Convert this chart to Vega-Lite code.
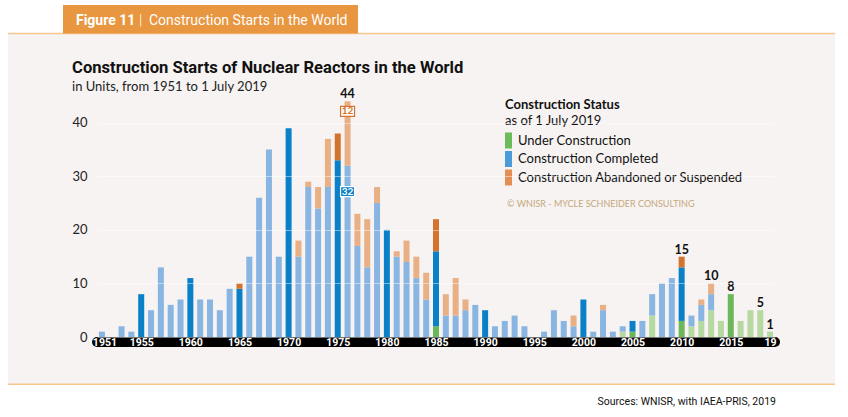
{
  "$schema": "https://vega.github.io/schema/vega-lite/v6.json",
  "width": 678,
  "height": 241,
  "autosize": {"type": "none"},
  "padding": {"left": 97, "top": 96, "right": 73, "bottom": 80},
  "background": "white",
  "config": {"view": {"stroke": null}, "font": "Lato", "scale": {"continuousPadding": 0}},
  "data": {
    "values": [
      {"year": 1951, "status": "Construction Completed", "units": 1},
      {"year": 1953, "status": "Construction Completed", "units": 2},
      {"year": 1954, "status": "Construction Completed", "units": 1},
      {"year": 1955, "status": "Construction Completed", "units": 8},
      {"year": 1956, "status": "Construction Completed", "units": 5},
      {"year": 1957, "status": "Construction Completed", "units": 13},
      {"year": 1958, "status": "Construction Completed", "units": 6},
      {"year": 1959, "status": "Construction Completed", "units": 7},
      {"year": 1960, "status": "Construction Completed", "units": 11},
      {"year": 1961, "status": "Construction Completed", "units": 7},
      {"year": 1962, "status": "Construction Completed", "units": 7},
      {"year": 1963, "status": "Construction Completed", "units": 5},
      {"year": 1964, "status": "Construction Completed", "units": 9},
      {"year": 1965, "status": "Construction Completed", "units": 9},
      {"year": 1965, "status": "Construction Abandoned or Suspended", "units": 1},
      {"year": 1966, "status": "Construction Completed", "units": 15},
      {"year": 1967, "status": "Construction Completed", "units": 26},
      {"year": 1968, "status": "Construction Completed", "units": 35},
      {"year": 1969, "status": "Construction Completed", "units": 15},
      {"year": 1970, "status": "Construction Completed", "units": 39},
      {"year": 1971, "status": "Construction Completed", "units": 15},
      {"year": 1971, "status": "Construction Abandoned or Suspended", "units": 3},
      {"year": 1972, "status": "Construction Completed", "units": 28},
      {"year": 1972, "status": "Construction Abandoned or Suspended", "units": 1},
      {"year": 1973, "status": "Construction Completed", "units": 24},
      {"year": 1973, "status": "Construction Abandoned or Suspended", "units": 4},
      {"year": 1974, "status": "Construction Completed", "units": 28},
      {"year": 1974, "status": "Construction Abandoned or Suspended", "units": 9},
      {"year": 1975, "status": "Construction Completed", "units": 33},
      {"year": 1975, "status": "Construction Abandoned or Suspended", "units": 5},
      {"year": 1976, "status": "Construction Completed", "units": 32},
      {"year": 1976, "status": "Construction Abandoned or Suspended", "units": 12},
      {"year": 1977, "status": "Construction Completed", "units": 17},
      {"year": 1977, "status": "Construction Abandoned or Suspended", "units": 6},
      {"year": 1978, "status": "Construction Completed", "units": 13},
      {"year": 1978, "status": "Construction Abandoned or Suspended", "units": 9},
      {"year": 1979, "status": "Construction Completed", "units": 25},
      {"year": 1979, "status": "Construction Abandoned or Suspended", "units": 3},
      {"year": 1980, "status": "Construction Completed", "units": 20},
      {"year": 1981, "status": "Construction Completed", "units": 15},
      {"year": 1981, "status": "Construction Abandoned or Suspended", "units": 1},
      {"year": 1982, "status": "Construction Completed", "units": 14},
      {"year": 1982, "status": "Construction Abandoned or Suspended", "units": 4},
      {"year": 1983, "status": "Construction Completed", "units": 11},
      {"year": 1983, "status": "Construction Abandoned or Suspended", "units": 4},
      {"year": 1984, "status": "Construction Completed", "units": 7},
      {"year": 1984, "status": "Construction Abandoned or Suspended", "units": 5},
      {"year": 1985, "status": "Under Construction", "units": 2},
      {"year": 1985, "status": "Construction Completed", "units": 14},
      {"year": 1985, "status": "Construction Abandoned or Suspended", "units": 6},
      {"year": 1986, "status": "Construction Completed", "units": 4},
      {"year": 1986, "status": "Construction Abandoned or Suspended", "units": 4},
      {"year": 1987, "status": "Construction Completed", "units": 4},
      {"year": 1987, "status": "Construction Abandoned or Suspended", "units": 7},
      {"year": 1988, "status": "Construction Completed", "units": 5},
      {"year": 1988, "status": "Construction Abandoned or Suspended", "units": 2},
      {"year": 1989, "status": "Construction Completed", "units": 6},
      {"year": 1990, "status": "Construction Completed", "units": 5},
      {"year": 1991, "status": "Construction Completed", "units": 2},
      {"year": 1992, "status": "Construction Completed", "units": 3},
      {"year": 1993, "status": "Construction Completed", "units": 4},
      {"year": 1994, "status": "Construction Completed", "units": 2},
      {"year": 1996, "status": "Construction Completed", "units": 1},
      {"year": 1997, "status": "Construction Completed", "units": 5},
      {"year": 1998, "status": "Construction Completed", "units": 3},
      {"year": 1999, "status": "Construction Completed", "units": 2},
      {"year": 1999, "status": "Construction Abandoned or Suspended", "units": 2},
      {"year": 2000, "status": "Construction Completed", "units": 7},
      {"year": 2001, "status": "Construction Completed", "units": 1},
      {"year": 2002, "status": "Construction Completed", "units": 5},
      {"year": 2002, "status": "Construction Abandoned or Suspended", "units": 1},
      {"year": 2003, "status": "Construction Completed", "units": 1},
      {"year": 2004, "status": "Under Construction", "units": 1},
      {"year": 2004, "status": "Construction Completed", "units": 1},
      {"year": 2005, "status": "Under Construction", "units": 1},
      {"year": 2005, "status": "Construction Completed", "units": 2},
      {"year": 2006, "status": "Construction Completed", "units": 3},
      {"year": 2007, "status": "Under Construction", "units": 4},
      {"year": 2007, "status": "Construction Completed", "units": 4},
      {"year": 2008, "status": "Construction Completed", "units": 10},
      {"year": 2009, "status": "Construction Completed", "units": 11},
      {"year": 2010, "status": "Under Construction", "units": 3},
      {"year": 2010, "status": "Construction Completed", "units": 10},
      {"year": 2010, "status": "Construction Abandoned or Suspended", "units": 2},
      {"year": 2011, "status": "Under Construction", "units": 2},
      {"year": 2011, "status": "Construction Completed", "units": 2},
      {"year": 2012, "status": "Under Construction", "units": 3},
      {"year": 2012, "status": "Construction Completed", "units": 3},
      {"year": 2012, "status": "Construction Abandoned or Suspended", "units": 1},
      {"year": 2013, "status": "Under Construction", "units": 5},
      {"year": 2013, "status": "Construction Completed", "units": 3},
      {"year": 2013, "status": "Construction Abandoned or Suspended", "units": 2},
      {"year": 2014, "status": "Under Construction", "units": 3},
      {"year": 2015, "status": "Under Construction", "units": 8},
      {"year": 2016, "status": "Under Construction", "units": 3},
      {"year": 2017, "status": "Under Construction", "units": 5},
      {"year": 2018, "status": "Under Construction", "units": 5},
      {"year": 2019, "status": "Under Construction", "units": 1}
    ]
  },
  "transform": [
    {"stack": "units", "groupby": ["year"], "sort": [{"field": "status", "order": "descending"}], "as": ["u0", "u1"]}
  ],
  "layer": [
    {
      "data": {"values": [{}]},
      "mark": {"type": "rect", "fill": "#f7f3f2"},
      "encoding": {
        "x": {"datum": 1941.44, "type": "quantitative", "scale": {"domain": [1950.5, 2019.5]}},
        "x2": {"datum": 2025.61},
        "y": {"datum": 56.58, "type": "quantitative", "scale": {"domain": [0, 45]}},
        "y2": {"datum": -8.78}
      }
    },
    {
      "data": {"values": [{}]},
      "mark": {"type": "rule", "stroke": "#f6c590", "strokeWidth": 1.5},
      "encoding": {
        "x": {"datum": 1941.44, "type": "quantitative", "scale": {"domain": [1950.5, 2019.5]}},
        "x2": {"datum": 2025.61},
        "y": {"datum": 56.67, "type": "quantitative", "scale": {"domain": [0, 45]}}
      }
    },
    {
      "data": {"values": [{}]},
      "mark": {"type": "rule", "stroke": "#f6c590", "strokeWidth": 1.5},
      "encoding": {
        "x": {"datum": 1941.44, "type": "quantitative", "scale": {"domain": [1950.5, 2019.5]}},
        "x2": {"datum": 2025.61},
        "y": {"datum": -8.8, "type": "quantitative", "scale": {"domain": [0, 45]}}
      }
    },
    {
      "data": {"values": [{}]},
      "mark": {"type": "rule", "stroke": "#000000", "strokeWidth": 10, "strokeCap": "round"},
      "encoding": {
        "x": {"datum": 1950.5, "type": "quantitative", "scale": {"domain": [1950.5, 2019.5]}},
        "x2": {"datum": 2019.5},
        "y": {"datum": -0.95, "type": "quantitative", "scale": {"domain": [0, 45]}}
      }
    },
    {
      "data": {"values": [{}]},
      "mark": {"type": "rect", "fill": "#e8963f"},
      "encoding": {
        "x": {"datum": 1947.04, "type": "quantitative", "scale": {"domain": [1950.5, 2019.5]}},
        "x2": {"datum": 1977.06},
        "y": {"datum": 61.99, "type": "quantitative", "scale": {"domain": [0, 45]}},
        "y2": {"datum": 56.67}
      }
    },
    {
      "data": {"values": [{}]},
      "mark": {"type": "text", "align": "left", "baseline": "alphabetic", "font": "Roboto, sans-serif", "fontSize": 14, "fontWeight": "bold", "fill": "white", "text": "Figure 11"},
      "encoding": {
        "x": {"datum": 1948.36, "type": "quantitative", "scale": {"domain": [1950.5, 2019.5]}},
        "y": {"datum": 58.26, "type": "quantitative", "scale": {"domain": [0, 45]}}
      }
    },
    {
      "data": {"values": [{}]},
      "mark": {"type": "text", "align": "left", "baseline": "alphabetic", "font": "Roboto, sans-serif", "fontSize": 15, "fontWeight": 300, "fill": "white", "text": "|"},
      "encoding": {
        "x": {"datum": 1954.77, "type": "quantitative", "scale": {"domain": [1950.5, 2019.5]}},
        "y": {"datum": 58.26, "type": "quantitative", "scale": {"domain": [0, 45]}}
      }
    },
    {
      "data": {"values": [{}]},
      "mark": {"type": "text", "align": "left", "baseline": "alphabetic", "font": "Roboto, sans-serif", "fontSize": 14, "fill": "white", "text": "Construction Starts in the World"},
      "encoding": {
        "x": {"datum": 1955.79, "type": "quantitative", "scale": {"domain": [1950.5, 2019.5]}},
        "y": {"datum": 58.26, "type": "quantitative", "scale": {"domain": [0, 45]}}
      }
    },
    {
      "data": {"values": [{}]},
      "mark": {"type": "text", "align": "left", "baseline": "alphabetic", "font": "Roboto, sans-serif", "fontSize": 16.6, "fontWeight": "bold", "fill": "#111111", "text": "Construction Starts of Nuclear Reactors in the World"},
      "encoding": {
        "x": {"datum": 1947.96, "type": "quantitative", "scale": {"domain": [1950.5, 2019.5]}},
        "y": {"datum": 49.24, "type": "quantitative", "scale": {"domain": [0, 45]}}
      }
    },
    {
      "data": {"values": [{}]},
      "mark": {"type": "text", "align": "left", "baseline": "alphabetic", "font": "Lato, sans-serif", "fontSize": 13, "fill": "#222222", "text": "in Units, from 1951 to 1 July 2019"},
      "encoding": {
        "x": {"datum": 1947.96, "type": "quantitative", "scale": {"domain": [1950.5, 2019.5]}},
        "y": {"datum": 45.95, "type": "quantitative", "scale": {"domain": [0, 45]}}
      }
    },
    {
      "data": {"values": [{}]},
      "mark": {"type": "text", "align": "left", "baseline": "alphabetic", "font": "Lato, sans-serif", "fontSize": 13, "fill": "#111111", "text": "as of 1 July 2019"},
      "encoding": {
        "x": {"datum": 1992.02, "type": "quantitative", "scale": {"domain": [1950.5, 2019.5]}},
        "y": {"datum": 39.58, "type": "quantitative", "scale": {"domain": [0, 45]}}
      }
    },
    {
      "data": {"values": [{}]},
      "mark": {"type": "text", "align": "left", "baseline": "alphabetic", "font": "Lato, sans-serif", "fontSize": 9, "fill": "#c4a87c", "text": "© WNISR - MYCLE SCHNEIDER CONSULTING"},
      "encoding": {
        "x": {"datum": 1992.23, "type": "quantitative", "scale": {"domain": [1950.5, 2019.5]}},
        "y": {"datum": 24.27, "type": "quantitative", "scale": {"domain": [0, 45]}}
      }
    },
    {
      "data": {"values": [{}]},
      "mark": {"type": "text", "align": "right", "baseline": "alphabetic", "font": "Roboto, sans-serif", "fontSize": 10.5, "fill": "#111111", "text": "Sources: WNISR, with IAEA-PRIS, 2019"},
      "encoding": {
        "x": {"datum": 2019.6, "type": "quantitative", "scale": {"domain": [1950.5, 2019.5]}},
        "y": {"datum": -12.7, "type": "quantitative", "scale": {"domain": [0, 45]}}
      }
    },
    {
      "mark": {"type": "bar", "size": 6},
      "encoding": {
        "x": {
          "field": "year", "type": "quantitative",
          "scale": {"domain": [1950.5, 2019.5], "padding": 0},
          "axis": {
            "title": null,
            "values": [1951, 1955, 1960, 1965, 1970, 1975, 1980, 1985, 1990, 1995, 2000, 2005, 2010, 2015, 2019],
            "format": "d",
            "labelExpr": "datum.value == 2019 ? '19' : datum.label",
            "domain": false,
            "ticks": false,
            "tickSize": 0,
            "offset": 5,
            "grid": false,
            "labelColor": "white",
            "labelFont": "Roboto, sans-serif",
            "labelFontWeight": "bold",
            "labelFontSize": 10.5,
            "labelBaseline": "middle",
            "labelPadding": 0,
            "labelOffset": {"condition": {"test": "datum.value == 1951", "value": 2.5}, "value": 0},
            "labelFlush": false,
            "labelOverlap": false,
            "zindex": 1
          }
        },
        "y": {
          "field": "u1", "type": "quantitative",
          "scale": {"domain": [0, 45]},
          "axis": {
            "title": null,
            "values": [0, 5, 10, 15, 20, 25, 30, 35, 40],
            "labelExpr": "datum.value % 10 == 0 ? datum.label : ''",
            "domain": false,
            "ticks": false,
            "grid": true,
            "gridColor": "white",
            "gridOpacity": 0.45,
            "gridWidth": 1,
            "labelFont": "Lato, sans-serif",
            "labelFontSize": 13,
            "labelColor": "#222222",
            "labelPadding": 10,
            "zindex": 1
          }
        },
        "y2": {"field": "u0"},
        "color": {
          "condition": [
            {"test": "datum.year % 5 == 0 && datum.status == 'Under Construction'", "value": "#6bb75a"},
            {"test": "datum.year % 5 == 0 && datum.status == 'Construction Completed'", "value": "#0a80c8"},
            {"test": "datum.year % 5 == 0 && datum.status == 'Construction Abandoned or Suspended'", "value": "#d4732d"},
            {"test": "datum.status == 'Under Construction'", "value": "#b5d9a1"},
            {"test": "datum.status == 'Construction Completed'", "value": "#88b5e2"},
            {"test": "datum.status == 'Construction Abandoned or Suspended'", "value": "#e8b084"}
          ],
          "field": "status",
          "type": "nominal",
          "scale": {
            "domain": ["Under Construction", "Construction Completed", "Construction Abandoned or Suspended"],
            "range": ["#6cbb5d", "#4b9bd8", "#e38e52"]
          },
          "legend": {
            "title": "Construction Status",
            "orient": "none",
            "legendX": 408,
            "legendY": 3,
            "padding": 0,
            "titleFont": "Lato, sans-serif",
            "titleFontSize": 13,
            "titleFontWeight": "bold",
            "titleColor": "#111111",
            "titlePadding": 20.5,
            "titleBaseline": "top",
            "symbolType": "M-1,-1 L-0.125,-1 L-0.125,1 L-1,1 Z",
            "symbolSize": 256,
            "symbolStrokeWidth": 0,
            "symbolOpacity": 1,
            "labelFont": "Lato, sans-serif",
            "labelFontSize": 13,
            "labelColor": "#111111",
            "labelOffset": -3,
            "labelLimit": 320,
            "rowPadding": 2.5
          }
        }
      }
    },
    {
      "transform": [
        {"filter": "indexof([1976, 2010, 2013, 2015, 2018, 2019], datum.year) >= 0"},
        {"aggregate": [{"op": "sum", "field": "units", "as": "total"}], "groupby": ["year"]}
      ],
      "mark": {"type": "text", "baseline": "alphabetic", "dy": -3, "font": "Lato, sans-serif", "fontSize": 12.5, "fontWeight": "bold", "fill": "#111111"},
      "encoding": {
        "x": {"field": "year", "type": "quantitative", "scale": {"domain": [1950.5, 2019.5]}},
        "y": {"field": "total", "type": "quantitative", "scale": {"domain": [0, 45]}},
        "text": {"field": "total", "type": "quantitative"}
      }
    },
    {
      "transform": [
        {"filter": "datum.year == 1976 && datum.status == 'Construction Abandoned or Suspended'"}
      ],
      "encoding": {
        "x": {"field": "year", "type": "quantitative", "scale": {"domain": [1950.5, 2019.5]}},
        "y": {"field": "u1", "type": "quantitative", "scale": {"domain": [0, 45]}},
        "yOffset": {"value": 10}
      },
      "layer": [
        {"mark": {"type": "point", "shape": "M-1,-0.72 L1,-0.72 L1,0.72 L-1,0.72 Z", "size": 196, "filled": true, "fill": "white", "stroke": "#d4732d", "strokeWidth": 1.2, "opacity": 1}},
        {"mark": {"type": "text", "baseline": "middle", "font": "Lato, sans-serif", "fontSize": 10, "fontWeight": "bold", "fill": "#d4732d"}, "encoding": {"text": {"field": "units", "type": "quantitative"}}}
      ]
    },
    {
      "transform": [
        {"filter": "datum.year == 1976 && datum.status == 'Construction Completed'"}
      ],
      "encoding": {
        "x": {"field": "year", "type": "quantitative", "scale": {"domain": [1950.5, 2019.5]}},
        "y": {"field": "u1", "type": "quantitative", "scale": {"domain": [0, 45]}},
        "yOffset": {"value": 26}
      },
      "layer": [
        {"mark": {"type": "point", "shape": "M-1,-0.72 L1,-0.72 L1,0.72 L-1,0.72 Z", "size": 196, "filled": true, "fill": "#0a80c8", "stroke": "white", "strokeWidth": 1.2, "opacity": 1}},
        {"mark": {"type": "text", "baseline": "middle", "font": "Lato, sans-serif", "fontSize": 10, "fontWeight": "bold", "fill": "white"}, "encoding": {"text": {"field": "units", "type": "quantitative"}}}
      ]
    }
  ]
}
